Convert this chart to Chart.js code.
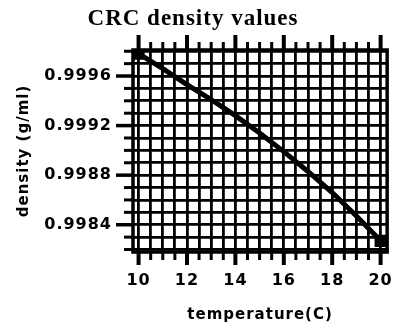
<!DOCTYPE html>
<html><head><meta charset="utf-8">
<script src="https://cdn.jsdelivr.net/npm/chart.js@4"></script>
<style>html,body{margin:0;padding:0;background:#fff}canvas{display:block}</style>
</head><body>
<canvas id="c" width="412" height="324"></canvas>
<script>
const temperature = [10, 11, 12, 13, 14, 15, 16, 17, 18, 19, 20];
const density = [0.99978, 0.99966, 0.99953, 0.99941, 0.99928, 0.99914, 0.99899, 0.99883, 0.99866, 0.99847, 0.99827];
const xTickLabels = [10, 12, 14, 16, 18, 20];
const yTickLabels = [0.9984, 0.9988, 0.9992, 0.9996];
const xRange = [9.77, 20.27];
const yRange = [0.99818, 0.99981];
const xMinorStep = 0.5;
const yMinorStep = 0.0001;

function isMajor(v, list, tol) { return list.some(m => Math.abs(m - v) < tol); }
const xGrid = [];
for (let i = 0; i <= 20; i++) xGrid.push(+(10 + i * xMinorStep).toFixed(2));
const yGrid = [];
for (let i = 0; i <= 16; i++) yGrid.push(+(0.9982 + i * yMinorStep).toFixed(4));

const sansFont = '"DejaVu Sans", Verdana, sans-serif';

const spacing = {
  id: 'spacing',
  beforeUpdate(c) { c.ctx.letterSpacing = '1px'; },
  beforeDraw(c) { c.ctx.letterSpacing = '1px'; },
  afterLayout(c) { if (c.titleBlock) c.titleBlock.right = c.titleBlock.left + 386; }
};

const frame = {
  id: 'frame',
  afterDraw(c) {
    const { ctx, chartArea: a, scales: { x, y } } = c;
    ctx.save();
    ctx.strokeStyle = '#000';
    ctx.lineCap = 'butt';
    const line = (x1, y1, x2, y2) => { ctx.beginPath(); ctx.moveTo(x1, y1); ctx.lineTo(x2, y2); ctx.stroke(); };
    xGrid.forEach(v => {
      const px = x.getPixelForValue(v);
      const maj = isMajor(v, xTickLabels, 0.01);
      ctx.lineWidth = maj ? 4 : 3;
      line(px, a.bottom, px, a.bottom + (maj ? 13 : 8));
      line(px, a.top, px, a.top - (maj ? 15 : 8));
    });
    yGrid.forEach(v => {
      const py = y.getPixelForValue(v);
      const maj = isMajor(v, yTickLabels, 1e-7);
      ctx.lineWidth = maj ? 3.5 : 3;
      line(a.left, py, a.left - (maj ? 17 : 9), py);
    });
    ctx.lineWidth = 3.5;
    ctx.strokeRect(a.left, a.top, a.right - a.left, a.bottom - a.top);
    ctx.restore();
  }
};

new Chart(document.getElementById('c'), {
  type: 'line',
  data: {
    datasets: [{
      data: temperature.map((t, i) => ({ x: t, y: density[i] })),
      borderColor: '#000',
      borderWidth: 5,
      pointStyle: 'rect',
      pointRadius: ctx => (ctx.dataIndex === 0 || ctx.dataIndex === temperature.length - 1) ? 5 : 0,
      pointBackgroundColor: '#000',
      pointBorderColor: '#000',
      tension: 0
    }]
  },
  options: {
    responsive: false,
    animation: false,
    devicePixelRatio: 1,
    layout: { padding: { left: 0, right: 7, top: 0, bottom: 0 } },
    plugins: {
      legend: { display: false },
      tooltip: { enabled: false },
      title: {
        display: true, text: 'CRC density values', color: '#000',
        font: { family: '"Liberation Serif", "Times New Roman", serif', size: 23, weight: 'bold' },
        padding: { top: 5, bottom: 17.4 }
      }
    },
    scales: {
      x: {
        type: 'linear', min: xRange[0], max: xRange[1],
        afterBuildTicks: s => { s.ticks = xGrid.map(v => ({ value: v })); },
        afterFit: s => { s.height = 72; },
        grid: { color: '#000', lineWidth: 2.8, drawTicks: false },
        border: { display: false },
        ticks: {
          autoSkip: false, maxRotation: 0, padding: 19, color: '#000',
          font: { family: sansFont, size: 16, weight: 'bold' },
          callback: v => isMajor(v, xTickLabels, 0.01) ? String(Math.round(v)) : ''
        },
        title: {
          display: true, text: 'temperature(C)', color: '#000',
          font: { family: sansFont, size: 15, weight: 'bold' },
          padding: { top: 0, bottom: 0 }
        }
      },
      y: {
        type: 'linear', min: yRange[0], max: yRange[1],
        afterBuildTicks: s => { s.ticks = yGrid.map(v => ({ value: v })); },
        afterFit: s => { s.width = 133; },
        grid: { color: '#000', lineWidth: 2.8, drawTicks: false },
        border: { display: false },
        ticks: {
          autoSkip: false, padding: 21, color: '#000',
          font: { family: sansFont, size: 16, weight: 'bold' },
          callback: v => isMajor(v, yTickLabels, 1e-7) ? v.toFixed(4) : ''
        },
        title: {
          display: true, text: 'density (g/ml)', color: '#000',
          font: { family: sansFont, size: 15, weight: 'bold' },
          padding: { top: 15, bottom: 0 }
        }
      }
    }
  },
  plugins: [spacing, frame]
});
</script>
</body></html>
